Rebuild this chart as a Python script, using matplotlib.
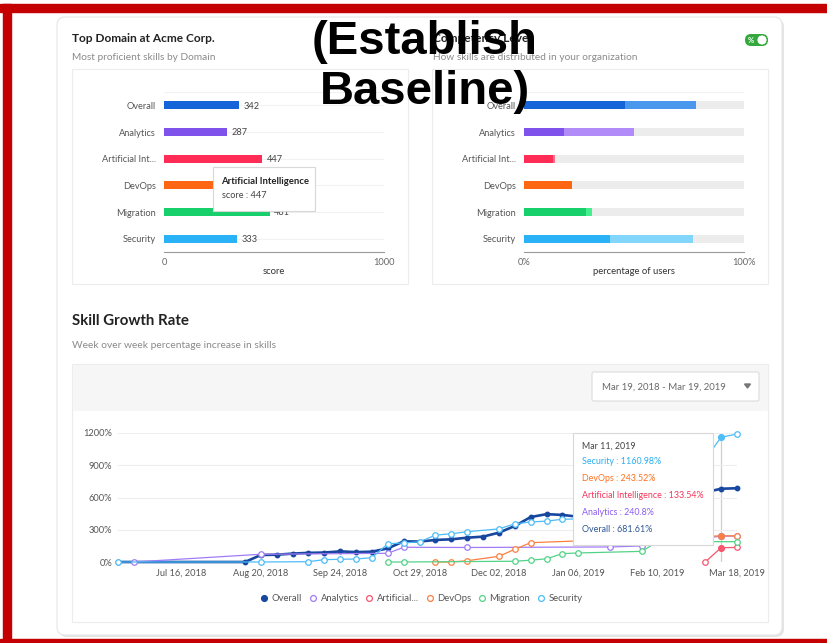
# Skills dashboard (Top Domain / Competency Level / Skill Growth Rate) with overlay note

import matplotlib.pyplot as plt
from matplotlib.patches import Rectangle, FancyBboxPatch, Circle, Polygon

plt.rcParams['font.family'] = ['Lato', 'DejaVu Sans']

W, H = 827, 643

# ---- data ----
domains = ['Overall', 'Analytics', 'Artificial Int...', 'DevOps', 'Migration', 'Security']
scores = [342, 287, 447, 400, 481, 333]
level_main = [46, 18, 13, 22, 28, 39]      # % of users, darker part
level_next = [32, 32, 1, 0, 3, 38]         # % of users, lighter part

week_labels = ['Jul 16, 2018', 'Aug 20, 2018', 'Sep 24, 2018', 'Oct 29, 2018',
               'Dec 02, 2018', 'Jan 06, 2019', 'Feb 10, 2019', 'Mar 18, 2019']
week_ticks = [4, 9, 14, 19, 24, 29, 34, 39]   # weeks after Jun 18, 2018

overall_wk = [0, 8, 9, 10, 11, 12, 13, 14, 15, 16, 17, 18, 19, 20, 21, 22, 23, 24, 25,
              26, 27, 28, 29, 37, 38, 39]
overall = [0, 0, 65, 68, 78, 85, 88, 99, 92, 96, 127, 192, 190, 205, 211, 226, 236, 273,
           335, 418, 445, 438, 421, 648, 681.61, 686]
analytics_wk = [1, 9, 17, 18, 22, 31, 33, 38, 39]
analytics = [0, 72, 81, 137, 135, 140, 149, 240.8, 241]
ai_wk = [37, 38, 39]
ai = [0, 133.54, 135]
devops_wk = [20, 21, 22, 24, 25, 26, 38, 39]
devops = [0, 0, 12, 53, 118, 180, 243.52, 243]
migration_wk = [17, 18, 25, 26, 27, 28, 29, 33, 34, 39]
migration = [0, 0, 7, 17, 30, 78, 84, 99, 190, 189]
security_wk = [0, 9, 12, 13, 14, 15, 16, 17, 18, 19, 20, 21, 22, 24, 25, 26, 27, 28,
               31, 37, 38, 39]
security = [0, 0, 3, 22, 25, 28, 40, 170, 177, 188, 250, 263, 282, 308, 355, 373, 380,
            398, 405, 957, 1160.98, 1190]

bar_colors = ['#1565d8', '#8052ec', '#ff2d55', '#ff6611', '#17cf6b', '#29b2f6']
bar_light = ['#4a98ee', '#b18cf8', '#ff7088', '#ff8a45', '#45ef8f', '#82d5fb']


def fbox(x0, y0, x1, y1):
    # pixel box (top-left origin) -> figure fraction rect
    return [x0 / W, 1 - y1 / H, (x1 - x0) / W, (y1 - y0) / H]


fig = plt.figure(figsize=(8.27, 6.43), dpi=100)

# background layer in pixel coordinates
bg = fig.add_axes([0, 0, 1, 1], zorder=0)
bg.set_xlim(0, W)
bg.set_ylim(H, 0)
bg.axis('off')

# red frame
bg.add_patch(Rectangle((0, 4), W, 8, color='#c40000'))
bg.add_patch(Rectangle((3, 4), 8, H, color='#c40000'))
bg.add_patch(Rectangle((0, 639), W, 4, color='#c40000'))

# card
bg.add_patch(FancyBboxPatch((59, 19), 725, 618, boxstyle='round,pad=0,rounding_size=8',
                            fc='#e4e4e4', ec='none'))
bg.add_patch(FancyBboxPatch((57, 17), 725, 618, boxstyle='round,pad=0,rounding_size=8',
                            fc='white', ec='#e6e6e6', lw=0.8))

# panel titles
bg.text(72, 39, 'Top Domain at Acme Corp.', fontsize=8.6, fontweight='bold',
        color='#222222', va='center')
bg.text(72, 58, 'Most proficient skills by Domain', fontsize=7.25, color='#8a8a8a', va='center')
bg.text(433, 39, 'Competency Level', fontsize=8.6, fontweight='bold',
        color='#222222', va='center')
bg.text(433, 58, 'How skills are distributed in your organization', fontsize=7.25,
        color='#8a8a8a', va='center')
bg.text(72, 321, 'Skill Growth Rate', fontsize=10.8, fontweight='bold',
        color='#222222', va='center')
bg.text(72, 345, 'Week over week percentage increase in skills', fontsize=7.4,
        color='#8a8a8a', va='center')

# panel boxes
for x0 in (72, 432):
    bg.add_patch(Rectangle((x0, 69), 336, 215, fc='white', ec='#ececec', lw=0.8))
bg.add_patch(Rectangle((72, 364), 696, 258, fc='white', ec='#ececec', lw=0.8))
bg.add_patch(Rectangle((72.5, 364.5), 695, 46, fc='#f6f6f6', ec='none'))

# date range dropdown
bg.add_patch(FancyBboxPatch((592, 372), 167, 29, boxstyle='round,pad=0,rounding_size=2',
                            fc='white', ec='#dcdcdc', lw=0.8))
bg.text(602, 387, 'Mar 19, 2018 - Mar 19, 2019', fontsize=6.9, color='#6a6a6a', va='center')
bg.add_patch(Polygon([[744.5, 384], [750.5, 384], [747.5, 388]], closed=True, color='#777777'))

# % toggle
bg.add_patch(FancyBboxPatch((745, 34), 23, 12, boxstyle='round,pad=0,rounding_size=6',
                            fc='#33a83c', ec='none'))
bg.add_patch(Circle((762, 40), 5, fc='white', ec='#33a83c', lw=0.6))
bg.text(750.5, 40.5, '%', fontsize=5.5, fontweight='bold', color='white',
        ha='center', va='center')

# legend of the growth chart
leg = [('Overall', '#17479e', True, 264), ('Analytics', '#a07cf5', False, 313),
       ('Artificial...', '#f7566f', False, 369), ('DevOps', '#fb8040', False, 429.5),
       ('Migration', '#52d388', False, 482), ('Security', '#4dbcf7', False, 541)]
for name, c, filled, lx in leg:
    bg.plot(lx, 598.3, 'o', ms=4.2, mew=0.9, mec=c, mfc=c if filled else 'white')
    bg.text(lx + 7.5, 598.3, name, fontsize=6.8, color='#555555', va='center')

# ---- Top Domain bars ----
axL = fig.add_axes(fbox(164, 92, 384, 252), zorder=2)
axL.barh(range(6), scores, height=0.29, color=bar_colors, zorder=2)
for i, v in enumerate(scores):
    axL.annotate(str(v), (v, i), xytext=(3, -0.5), textcoords='offset points',
                 va='center', fontsize=6.6, color='#444444')
for i in range(6):
    axL.axhline(i, color='#f1f1f1', lw=0.8, zorder=0)
axL.axhline(-0.5, color='#f1f1f1', lw=0.8, zorder=0)
axL.set_xlim(0, 1000)
axL.set_ylim(5.5, -0.5)
axL.set_yticks(range(6), domains)
axL.set_xticks([0, 1000], ['0', '1000'])
axL.set_xlabel('score', fontsize=6.8, color='#333333', labelpad=0.5)

# ---- Competency Level bars ----
axR = fig.add_axes(fbox(524, 92, 744, 252), zorder=2)
axR.barh(range(6), [100] * 6, height=0.29, color='#ececec', zorder=1)
axR.barh(range(6), level_main, height=0.29, color=bar_colors, zorder=2)
axR.barh(range(6), level_next, left=level_main, height=0.29, color=bar_light, zorder=2)
axR.axhline(-0.5, color='#f1f1f1', lw=0.8, zorder=0)
axR.set_xlim(0, 100)
axR.set_ylim(5.5, -0.5)
axR.set_yticks(range(6), domains)
axR.set_xticks([0, 100], ['0%', '100%'])
axR.set_xlabel('percentage of users', fontsize=6.8, color='#333333', labelpad=0.5)

for ax in (axL, axR):
    for s in ('top', 'right', 'left'):
        ax.spines[s].set_visible(False)
    ax.spines['bottom'].set_color('#9a9a9a')
    ax.tick_params(axis='y', length=0, pad=6, labelsize=6.7, labelcolor='#555555')
    ax.tick_params(axis='x', length=0, pad=4, labelsize=6.7, labelcolor='#666666')
    ax.patch.set_alpha(0)

# ---- Skill Growth Rate lines ----
axC = fig.add_axes(fbox(118, 433, 737, 562), zorder=2)
axC.patch.set_alpha(0)
for s in axC.spines.values():
    s.set_visible(False)
axC.set_xlim(0, 39)
axC.set_ylim(0, 1200)
axC.set_yticks([0, 300, 600, 900, 1200], ['0%', '300%', '600%', '900%', '1200%'])
axC.set_xticks(week_ticks, week_labels)
axC.grid(axis='y', color='#eeeeee', lw=0.8)
axC.tick_params(length=0, labelsize=6.7, labelcolor='#555555')
axC.tick_params(axis='y', pad=4)
axC.tick_params(axis='x', pad=5)
axC.axvline(38, color='#cfcfcf', lw=0.9, zorder=1)

axC.plot(overall_wk, overall, '-o', color='#17479e', lw=1.9, ms=3.2, clip_on=False, zorder=3)
series = [(analytics_wk, analytics, '#a07cf5'), (ai_wk, ai, '#f7566f'),
          (devops_wk, devops, '#fb8040'), (migration_wk, migration, '#52d388'),
          (security_wk, security, '#4dbcf7')]
for wk, vals, c in series:
    axC.plot(wk, vals, '-o', color=c, lw=0.9, ms=4.0, mew=0.9, mfc='white',
             clip_on=False, zorder=4)
# hovered week (Mar 11, 2019) highlighted
for wk, vals, c in series:
    if 38 in wk and c != '#52d388':
        axC.plot(38, vals[wk.index(38)], 'o', color=c, ms=3.8, clip_on=False, zorder=5)

# ---- overlay: tooltips and note ----
ov = fig.add_axes([0, 0, 1, 1], zorder=5)
ov.set_xlim(0, W)
ov.set_ylim(H, 0)
ov.axis('off')

ov.add_patch(Rectangle((214, 168), 102, 44, fc='#e8e8e8', ec='none'))
ov.add_patch(Rectangle((213, 167), 102, 44, fc='white', ec='#d8d8d8', lw=0.8))
ov.text(221.5, 182, 'Artificial Intelligence', fontsize=6.8, fontweight='bold',
        color='#222222', va='center')
ov.text(221.5, 196, 'score : 447', fontsize=6.6, color='#444444', va='center')

ov.add_patch(Rectangle((574, 434), 140, 112, fc='#e8e8e8', ec='none'))
ov.add_patch(Rectangle((573, 433), 140, 112, fc='white', ec='#d8d8d8', lw=0.8))
tip = [('Mar 11, 2019', '#444444', 446.5),
       ('Security : 1160.98%', '#29aef3', 461.5),
       ('DevOps : 243.52%', '#ff6f1e', 478.5),
       ('Artificial Intelligence : 133.54%', '#f4365a', 495.8),
       ('Analytics : 240.8%', '#8b5cf0', 512.5),
       ('Overall : 681.61%', '#2d5596', 529)]
for t, c, ty in tip:
    ov.text(581.5, ty, t, fontsize=6.4, color=c, va='center')

ov.text(425, 67, '(Establish\nBaseline)', fontsize=34, fontweight='bold',
        family=['Liberation Sans', 'DejaVu Sans'], color='black',
        ha='center', va='center', multialignment='center', linespacing=1.2)

fig.savefig('out.png', dpi=100)
